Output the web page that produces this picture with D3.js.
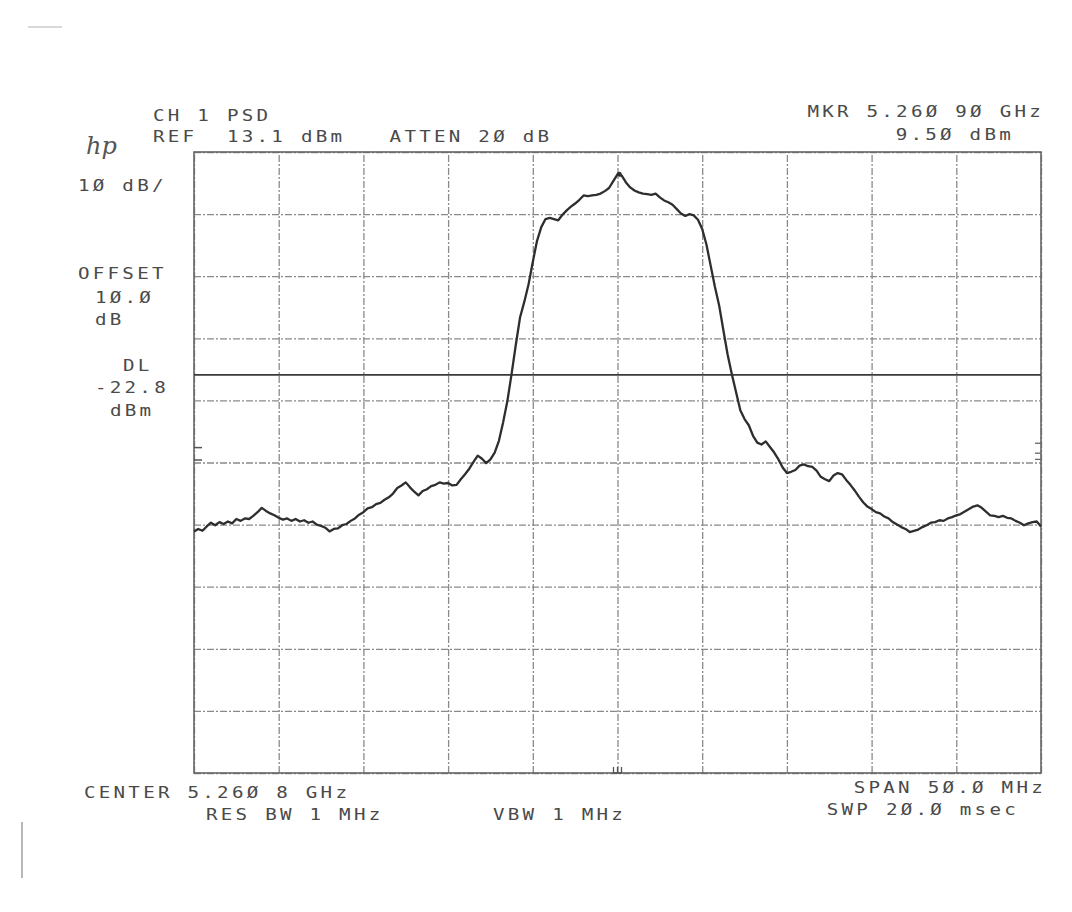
<!DOCTYPE html>
<html>
<head>
<meta charset="utf-8">
<script src="https://cdn.jsdelivr.net/npm/d3@7"></script>
<style>
  body { margin: 0; background: #fff; }
  svg { display: block; }
  .lbl { font-family: "DejaVu Sans Mono", monospace; font-size: 16px; fill: #4a4a4a; letter-spacing: 2.7px; white-space: pre; }
  .grid line { stroke: #8a8a8a; stroke-width: 1.3; stroke-dasharray: 7,2,2,2; }
  .grid path { display: none; }
</style>
</head>
<body>
<script>
// analyzer settings
var refLevel = 13.1,
    dbPerDiv = 10,
    numDivs = 10,
    spanMHz = 50,
    displayLine = -22.8,
    markerMHz = 0.1,
    markerDbm = 9.5;

// trace: sweep starts at -25 MHz from center, one point each 0.25 MHz
var traceStartMHz = -25,
    traceStepMHz = 0.25;
var traceDbm = [
  -48.0, -47.6, -47.9, -47.2, -46.6, -47.0, -46.5, -46.8, -46.4, -46.7,
  -46.0, -46.3, -45.9, -46.0, -45.5, -44.9, -44.2, -44.7, -45.1, -45.4,
  -45.8, -46.1, -45.9, -46.3, -46.0, -46.4, -46.2, -46.6, -46.4, -46.9,
  -47.1, -47.4, -48.0, -47.6, -47.5, -47.0, -46.8, -46.3, -45.9, -45.3,
  -44.9, -44.3, -44.1, -43.6, -43.4, -42.9, -42.5, -41.9, -41.0, -40.6,
  -40.1, -40.9, -41.6, -42.2, -41.5, -41.2, -40.7, -40.5, -40.1, -40.3,
  -40.2, -40.6, -40.5, -39.6, -38.8, -37.9, -36.8, -35.8, -36.3, -37.0,
  -36.4, -35.3, -33.4, -30.4, -27.0, -22.6, -17.9, -13.5, -11.0, -8.2,
  -4.6, -1.2, 1.0, 2.3, 2.5, 2.3, 2.1, 3.0, 3.7, 4.3,
  4.8, 5.4, 6.1, 6.0, 6.1, 6.2, 6.4, 6.8, 7.3, 8.4,
  9.5, 9.3, 8.2, 7.4, 6.9, 6.6, 6.4, 6.3, 6.2, 6.4,
  5.8, 5.3, 5.0, 4.6, 3.9, 3.2, 2.8, 3.1, 2.9, 2.2,
  0.7, -1.8, -5.2, -8.6, -11.6, -15.6, -19.5, -22.7, -25.6, -28.5,
  -29.9, -30.9, -32.6, -33.7, -34.0, -33.5, -34.4, -35.3, -36.4, -37.7,
  -38.6, -38.4, -38.1, -37.4, -37.2, -37.5, -37.6, -38.2, -39.2, -39.6,
  -39.9, -39.0, -38.6, -38.8, -39.7, -40.5, -41.4, -42.4, -43.3, -44.0,
  -44.4, -44.9, -45.1, -45.6, -45.9, -46.5, -46.9, -47.3, -47.6, -48.1,
  -47.9, -47.7, -47.3, -47.0, -46.6, -46.5, -46.2, -46.3, -45.9, -45.7,
  -45.4, -45.2, -44.8, -44.4, -44.0, -43.8, -44.2, -44.8, -45.4, -45.5,
  -45.7, -45.5, -45.8, -45.9, -46.3, -46.6, -47.0, -46.7, -46.5, -46.4,
  -47.2
];

// screen annotations (HP plotter style, slashed zeros)
var topLeftText = ["CH 1 PSD", "REF  13.1 dBm   ATTEN 2\u00d8 dB"];
var topRightText = ["MKR 5.26\u00d8 9\u00d8 GHz", "9.5\u00d8 dBm"];
var sideText = ["1\u00d8 dB/", "OFFSET", "1\u00d8.\u00d8", "dB", "DL", "-22.8", "dBm"];
var bottomLeftText = ["CENTER 5.26\u00d8 8 GHz", "RES BW 1 MHz", "VBW 1 MHz"];
var bottomRightText = ["SPAN 5\u00d8.\u00d8 MHz", "SWP 2\u00d8.\u00d8 msec"];

var width = 1072, height = 912,
    margin = {top: 152, left: 194, right: 31, bottom: 139};

var svg = d3.select("body").append("svg")
  .attr("width", width)
  .attr("height", height);

var x = d3.scaleLinear()
  .domain([-spanMHz / 2, spanMHz / 2])
  .range([margin.left, width - margin.right]);

var y = d3.scaleLinear()
  .domain([refLevel - dbPerDiv * numDivs, refLevel])
  .range([height - margin.bottom, margin.top]);

var xTicks = d3.range(numDivs + 1).map(function(i) { return -spanMHz / 2 + i * spanMHz / numDivs; });
var yTicks = d3.range(numDivs + 1).map(function(i) { return refLevel - i * dbPerDiv; });

// graticule
svg.append("g")
  .attr("class", "grid")
  .attr("transform", "translate(0," + (height - margin.bottom) + ")")
  .call(d3.axisBottom(x).tickValues(xTicks).tickSize(-(height - margin.top - margin.bottom)).tickFormat(""));

svg.append("g")
  .attr("class", "grid")
  .attr("transform", "translate(" + margin.left + ",0)")
  .call(d3.axisLeft(y).tickValues(yTicks).tickSize(-(width - margin.left - margin.right)).tickFormat(""));

// frame
svg.append("rect")
  .attr("x", x(-spanMHz / 2))
  .attr("y", y(refLevel))
  .attr("width", x(spanMHz / 2) - x(-spanMHz / 2))
  .attr("height", y(refLevel - dbPerDiv * numDivs) - y(refLevel))
  .attr("fill", "none")
  .attr("stroke", "#666")
  .attr("stroke-width", 1.6);

// display line
svg.append("line")
  .attr("x1", x(-spanMHz / 2))
  .attr("x2", x(spanMHz / 2))
  .attr("y1", y(displayLine))
  .attr("y2", y(displayLine))
  .attr("stroke", "#3a3a3a")
  .attr("stroke-width", 1.8);

// threshold ticks on left and right edge
svg.selectAll(".ltick")
  .data([-34.5, -36.5])
  .enter().append("line")
  .attr("x1", x(-spanMHz / 2))
  .attr("x2", x(-spanMHz / 2) + 8)
  .attr("y1", function(d) { return y(d); })
  .attr("y2", function(d) { return y(d); })
  .attr("stroke", "#555").attr("stroke-width", 1.5);
svg.selectAll(".rtick")
  .data([-33.8, -35.4, -36.4])
  .enter().append("line")
  .attr("x1", x(spanMHz / 2) - 6)
  .attr("x2", x(spanMHz / 2))
  .attr("y1", function(d) { return y(d); })
  .attr("y2", function(d) { return y(d); })
  .attr("stroke", "#666").attr("stroke-width", 1.3);

// center marker tick at bottom
var bottomY = y(refLevel - dbPerDiv * numDivs);
svg.append("path")
  .attr("d", "M" + (x(0) - 4) + "," + (bottomY - 6) + "v6h8v-6M" + x(0) + "," + (bottomY - 6) + "v6")
  .attr("fill", "none").attr("stroke", "#555").attr("stroke-width", 1.3);

// trace
var line = d3.line()
  .x(function(d, i) { return x(traceStartMHz + i * traceStepMHz); })
  .y(function(d) { return y(d); })
  .curve(d3.curveLinear);

svg.append("path")
  .datum(traceDbm)
  .attr("d", line)
  .attr("fill", "none")
  .attr("stroke", "#2e2e2e")
  .attr("stroke-width", 2.3)
  .attr("stroke-linejoin", "round");

// marker dot at peak
svg.append("circle")
  .attr("cx", x(markerMHz))
  .attr("cy", y(markerDbm))
  .attr("r", 2.5)
  .attr("fill", "#2e2e2e");

// text, stretched wide like the plotter font
function addText(str, xx, yy, anchor) {
  svg.append("text")
    .attr("class", "lbl")
    .attr("transform", "translate(" + xx + "," + yy + ") scale(1.2,1)")
    .attr("text-anchor", anchor || "start")
    .text(str);
}

addText(topLeftText[0], 153, 121);
addText(topLeftText[1], 153, 142);
addText(topRightText[0], 1044, 117, "end");
addText(topRightText[1], 1014, 140, "end");

var sidePos = [[78, 191], [78, 279], [95, 303], [95, 325], [123, 371], [95, 393], [110, 416]];
sideText.forEach(function(t, i) { addText(t, sidePos[i][0], sidePos[i][1]); });

addText(bottomLeftText[0], 84, 798);
addText(bottomLeftText[1], 206, 820);
addText(bottomLeftText[2], 493, 820);
addText(bottomRightText[0], 1046, 793, "end");
addText(bottomRightText[1], 1019, 815, "end");

// hp logo
svg.append("text")
  .attr("x", 86)
  .attr("y", 154)
  .attr("font-family", "DejaVu Serif, serif")
  .attr("font-style", "italic")
  .attr("font-size", 24)
  .attr("fill", "#555")
  .text("hp");

// stray marks on the scanned page
svg.append("line")
  .attr("x1", 28).attr("x2", 62).attr("y1", 27).attr("y2", 27)
  .attr("stroke", "#ccc").attr("stroke-width", 1.5);
svg.append("line")
  .attr("x1", 22).attr("x2", 22).attr("y1", 822).attr("y2", 878)
  .attr("stroke", "#888").attr("stroke-width", 1.2);
</script>
</body>
</html>
